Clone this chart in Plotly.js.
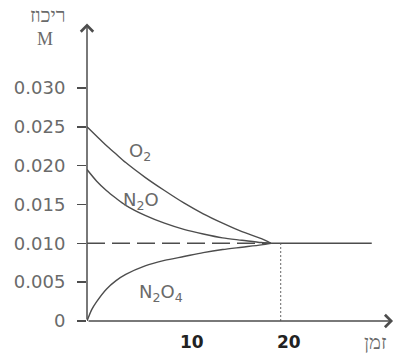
<!DOCTYPE html>
<html><head><meta charset="utf-8">
<script src="https://cdn.plot.ly/plotly-3.0.1.min.js"></script>
<style>html,body{margin:0;padding:0;background:#fff;}#chart{width:398px;height:356px;}</style>
</head><body><div id="chart"></div>
<script>
// ---- data ----
const timeO2 = [0, 1, 2, 3, 4, 6, 8, 10, 12, 14, 16, 18, 19];
const o2 = [0.0250, 0.0238, 0.0226, 0.0215, 0.0204, 0.0185, 0.0168, 0.0152, 0.0138, 0.0126, 0.0115, 0.0106, 0.0100];
const timeN2O = [0, 1, 2, 3, 4, 6, 8, 10, 12, 14, 16, 18, 19];
const n2o = [0.0195, 0.0180, 0.0168, 0.0158, 0.0149, 0.0136, 0.0126, 0.0118, 0.0112, 0.0107, 0.0104, 0.0101, 0.0100];
const timeN2O4 = [0, 0.5, 1, 2, 3, 4, 6, 8, 10, 12, 14, 16, 18, 19];
const n2o4 = [0, 0.0015, 0.0025, 0.0041, 0.0052, 0.0060, 0.0071, 0.0078, 0.0083, 0.0088, 0.0092, 0.0095, 0.0098, 0.0100];
const equilibriumLevel = 0.010;
const dashedTimes = [0, 19];
const solidTimes = [19, 29.4];
const equilibriumTime = 20;
const yTickVals = [0, 0.005, 0.010, 0.015, 0.020, 0.025, 0.030];
const yTickText = ['0', '0.005', '0.010', '0.015', '0.020', '0.025', '0.030'];
const xTickVals = [10, 20];
const xTickText = ['10', '20'];
const speciesLabels = ['O<sub>2</sub>', 'N<sub>2</sub>O', 'N<sub>2</sub>O<sub>4</sub>'];
const speciesLabelX = [5.5, 5.6, 7.6];
const speciesLabelY = [0.0217, 0.0154, 0.0036];
const yTitle = 'ריכוז';
const yUnit = 'M';
const xTitle = 'זמן';

// ---- chart ----
const lineColor = '#4d4d4d';
const textGray = '#6a6a6a';
const xMax = 31.8, yMax = 0.0385;

const curve = (x, y) => ({x, y, type: 'scatter', mode: 'lines', line: {color: lineColor, width: 1.4, shape: 'spline', smoothing: 0.8}, hoverinfo: 'skip'});

const traces = [
  curve(timeO2, o2),
  curve(timeN2O, n2o),
  curve(timeN2O4, n2o4),
  {x: dashedTimes, y: dashedTimes.map(() => equilibriumLevel), type: 'scatter', mode: 'lines',
   line: {color: lineColor, width: 1.5, dash: '18px,7px'}},
  {x: solidTimes, y: solidTimes.map(() => equilibriumLevel), type: 'scatter', mode: 'lines',
   line: {color: lineColor, width: 1.5}},
  {x: [equilibriumTime, equilibriumTime], y: [0, equilibriumLevel], type: 'scatter', mode: 'lines',
   line: {color: '#666', width: 1, dash: '2px,2px'}}
];

const serif = 'Liberation Serif, DejaVu Serif, serif';
const annotations = [
  // axis arrows
  {x: 0, y: yMax - 0.0002, ax: 0, ay: 0, xref: 'x', yref: 'y', axref: 'x', ayref: 'y', text: '',
   showarrow: true, arrowhead: 4, arrowsize: 1.6, arrowwidth: 1.5, arrowcolor: lineColor},
  {x: xMax - 0.2, y: 0, ax: 0, ay: 0, xref: 'x', yref: 'y', axref: 'x', ayref: 'y', text: '',
   showarrow: true, arrowhead: 4, arrowsize: 1.6, arrowwidth: 1.5, arrowcolor: lineColor},
  // axis titles
  {xref: 'paper', yref: 'paper', x: 0, y: 1, xanchor: 'center', yanchor: 'middle', xshift: -39, yshift: 7,
   text: yTitle, showarrow: false, font: {family: serif, size: 20, color: textGray}},
  {xref: 'paper', yref: 'paper', x: 0, y: 1, xanchor: 'center', yanchor: 'middle', xshift: -42, yshift: -17,
   text: yUnit, showarrow: false, font: {family: serif, size: 18, color: textGray}},
  {xref: 'paper', yref: 'paper', x: 0, y: 0, xanchor: 'center', yanchor: 'middle', xshift: 288, yshift: -21,
   text: xTitle, showarrow: false, font: {family: serif, size: 20, color: textGray}}
];
speciesLabels.forEach((t, i) => annotations.push({
  x: speciesLabelX[i], y: speciesLabelY[i], xref: 'x', yref: 'y', text: t, showarrow: false,
  font: {family: 'DejaVu Sans, sans-serif', size: 18, color: textGray}
}));

const layout = {
  width: 398, height: 356,
  margin: {l: 87, r: 3, t: 22, b: 35},
  paper_bgcolor: '#fff', plot_bgcolor: '#fff',
  showlegend: false,
  xaxis: {range: [0, xMax], showgrid: false, zeroline: false, showline: false,
    tickvals: xTickVals, ticktext: xTickText, ticks: '',
    tickfont: {family: 'DejaVu Sans, sans-serif', size: 17, color: '#222', weight: 'bold'},
    ticklabelshift: 8, ticklabelstandoff: 9},
  yaxis: {range: [0, yMax], showgrid: false, zeroline: false, showline: false,
    tickvals: yTickVals, ticktext: yTickText, ticks: 'outside', ticklen: 9, tickwidth: 1.5, tickcolor: lineColor,
    tickfont: {family: 'DejaVu Sans, sans-serif', size: 18, color: textGray},
    ticklabelstandoff: 8},
  annotations
};

Plotly.newPlot('chart', traces, layout, {displayModeBar: false, staticPlot: true});
</script>
</body></html>
